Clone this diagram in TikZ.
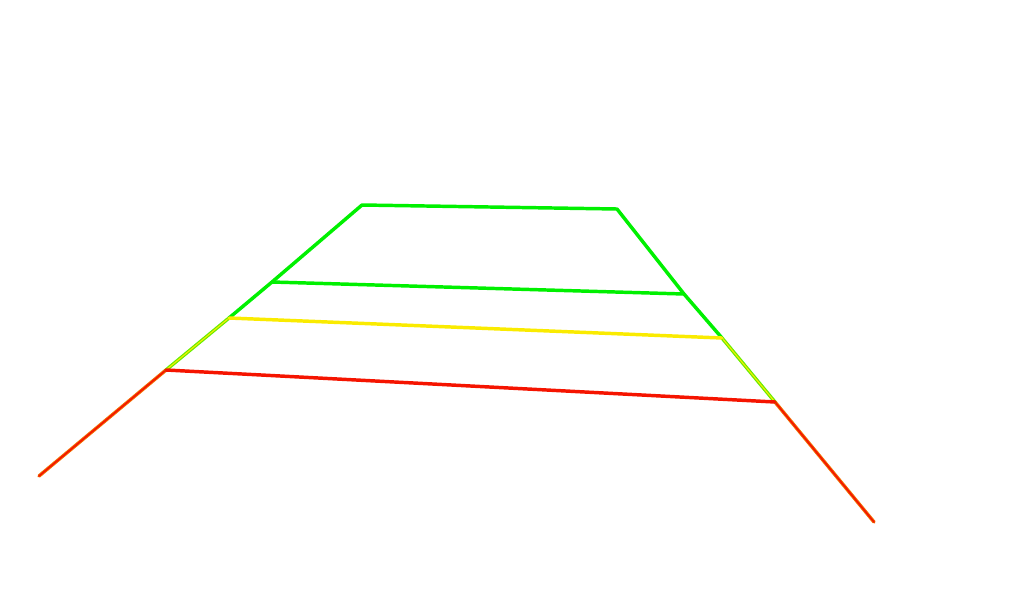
\documentclass[tikz,border=0pt]{standalone}
\usetikzlibrary{positioning}
\definecolor{guidegreen}{RGB}{0,240,0}
\definecolor{guideyellow}{RGB}{250,235,0}
\definecolor{guidered}{RGB}{245,20,0}
\definecolor{guideorange}{RGB}{240,110,0}
\tikzset{
  guide/.style={line width=2.6pt,line cap=round,line join=round},
  near band/.style={guide,guidegreen},
  mid band/.style={guide,guideyellow},
  far band/.style={guide,guidered},
  mid side/.style={guide,draw=guidegreen!60!guideyellow,double=guideyellow,double distance=0.8pt,line width=0.9pt},
  far side/.style={guide,draw=guideorange,double=guidered,double distance=1.2pt,line width=0.7pt}
}
\begin{document}
\begin{tikzpicture}[x=0.75pt,y=-0.75pt]
  \useasboundingbox (0,0) rectangle (1024,600);
  % corner points of the guide lines
  \coordinate (topL) at (362,205);
  \coordinate (topR) at (617,209);
  \coordinate (greenL) at (272,282);
  \coordinate (greenR) at (684,294);
  \coordinate (yellowL) at (229,318);
  \coordinate (yellowR) at (722,338);
  \coordinate (redL) at (166,370);
  \coordinate (redR) at (775,402);
  \coordinate (endL) at (39,476);
  \coordinate (endR) at (874,522);
  % sides
  \draw[far side] (redL) -- (endL);
  \draw[far side] (redR) -- (endR);
  \draw[mid side] (yellowL) -- (redL);
  \draw[mid side] (yellowR) -- (redR);
  \draw[near band] (yellowL) -- (greenL) -- (topL) -- (topR) -- (greenR) -- (yellowR);
  % cross lines
  \draw[near band] (greenL) -- (greenR);
  \draw[mid band] (yellowL) -- (yellowR);
  \draw[far band] (redL) -- (redR);
\end{tikzpicture}
\end{document}
